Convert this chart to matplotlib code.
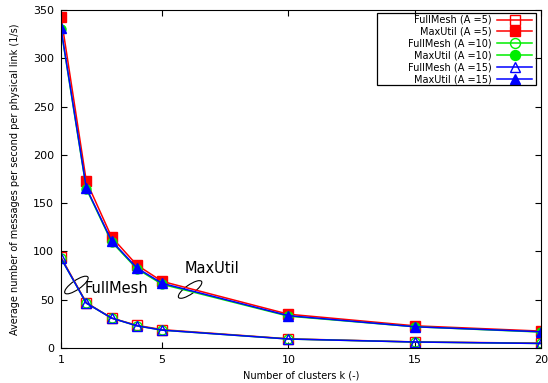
import matplotlib
matplotlib.use("Agg")
import matplotlib.pyplot as plt
from matplotlib.patches import Ellipse, Rectangle
from matplotlib.transforms import ScaledTranslation

k = [1, 2, 3, 4, 5, 10, 15, 20]
fullmesh_a5 = [94, 47, 31, 23.5, 19, 9.5, 6.3, 5]
maxutil_a5 = [343, 173, 115, 86, 69, 35, 23, 17.5]
fullmesh_a10 = [93, 46.5, 31, 23, 18.5, 9.3, 6.2, 4.7]
maxutil_a10 = [330, 165, 110, 82, 66, 33, 22, 16.5]
fullmesh_a15 = [93, 46.5, 31, 23, 18.5, 9.3, 6.2, 4.7]
maxutil_a15 = [331, 166, 111, 83, 67, 33.5, 22, 16.8]

series = [
    ("FullMesh (A =5)", fullmesh_a5, "#ff0000", "s", "none"),
    ("MaxUtil (A =5)", maxutil_a5, "#ff0000", "s", "#ff0000"),
    ("FullMesh (A =10)", fullmesh_a10, "#00ee00", "o", "none"),
    ("MaxUtil (A =10)", maxutil_a10, "#00ee00", "o", "#00ee00"),
    ("FullMesh (A =15)", fullmesh_a15, "#0000ff", "^", "none"),
    ("MaxUtil (A =15)", maxutil_a15, "#0000ff", "^", "#0000ff"),
]

W, H = 548, 383
fig = plt.figure(figsize=(W / 100, H / 100), dpi=100)
ax = fig.add_axes([61 / W, 1 - 348 / H, 480 / W, 338 / H])

for label, vals, col, mk, fc in series:
    ax.plot(k, vals, color=col, lw=1.1, marker=mk, markersize=6.5,
            markerfacecolor=fc, markeredgecolor=col, markeredgewidth=1,
            label=label)

ax.set_xlim(1, 20)
ax.set_ylim(0, 350)
ax.set_xticks([1, 5, 10, 15, 20])
ax.set_yticks(range(0, 351, 50))
ax.tick_params(direction="in", top=True, right=True, labelsize=8, length=4, pad=5)
ax.set_xlabel("Number of clusters k (-)", fontsize=7)
ax.set_ylabel("Average number of messages per second per physical link (1/s)",
              fontsize=7, labelpad=9)

leg = ax.legend(loc="upper right", fontsize=7, markerfirst=False, frameon=False,
                handlelength=3.6, labelspacing=0.2, borderpad=0.3,
                bbox_to_anchor=(1 - 6 / 480, 1 - 2 / 338),
                borderaxespad=0.0, handletextpad=0.6, markerscale=1.1)
# legend frame (gnuplot-style box with wider left padding)
fig.patches.append(Rectangle((377 / W, 1 - 85 / H), (536 - 377) / W, (85 - 13) / H,
                             transform=fig.transFigure, fill=True, facecolor="none",
                             edgecolor="black", lw=0.9, zorder=5))
fig.patches[-1].set_figure(fig)

# annotations: ellipses sized in inches at data anchors
def ell(x, y):
    tr = fig.dpi_scale_trans + ScaledTranslation(x, y, ax.transData)
    ax.add_patch(Ellipse((0, 0), 0.28, 0.09, angle=35, fill=False, lw=0.8,
                         edgecolor="black", transform=tr))

ell(1.61, 65.2)
ell(6.11, 60.6)
ax.text(1.95, 62, "FullMesh", fontsize=10.5, va="center")
ax.text(5.91, 82, "MaxUtil", fontsize=10.5, va="center")

fig.savefig("out.png", dpi=100)
